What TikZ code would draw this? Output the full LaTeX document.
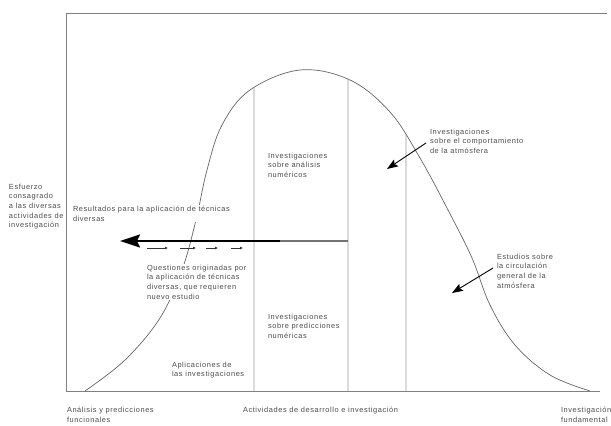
\documentclass[tikz,border=0pt]{standalone}
\usepackage{fontspec}
\setmainfont[LetterSpace=8]{Liberation Sans}
\usetikzlibrary{arrows.meta,intersections}
\begin{document}
\begin{tikzpicture}[x=1pt,y=-1pt,
  lbl/.style={anchor=north west, align=left, inner sep=0.8pt, fill=white, text=black!70,
              font=\fontsize{7.4}{9.6}\selectfont},
  framel/.style={draw=black!50, line width=0.9pt},
  curvel/.style={draw=black!60, line width=0.7pt},
  divl/.style={draw=black!40, line width=0.8pt},
  ptr/.style={draw=black, line width=0.9pt, -{Stealth[length=11pt,width=8pt,inset=2pt]}},
  bigarrow/.style={draw=black, line width=1.8pt, -{Stealth[length=20pt,width=13pt,inset=3pt]}},
  bigtail/.style={draw=black!55, line width=1.1pt},
  smallarrow/.style={draw=black!80, line width=0.6pt, -{Latex[length=3pt,width=3pt]}}]
\useasboundingbox (0,0) rectangle (611,426);
\fill[white] (0,0) rectangle (611,426);

% frame
\draw[framel] (607,13) -- (66,13) -- (66,391) -- (600,391);

% bell curve
\draw[curvel, name path=bell] plot[smooth, tension=0.6] coordinates {
  (85,391) (125,360) (160,318) (182,270) (196,220) (207,170) (222,125) (250,90)
  (300,70) (350,80) (390,112) (420,158) (448,210) (472,258) (490,305) (515,345)
  (550,375) (590,391)};

% vertical dividers
\path[name path=v1] (254,0) -- (254,391);
\path[name path=v2] (348,0) -- (348,391);
\path[name path=v3] (406,0) -- (406,391);
\draw[divl, name intersections={of=bell and v1}] (intersection-1) -- (254,391);
\draw[divl, name intersections={of=bell and v2}] (intersection-1) -- (348,391);
\draw[divl, name intersections={of=bell and v3}] (intersection-1) -- (406,391);

% labels
\node[lbl] (esf) at (8,183) {Esfuerzo\\consagrado\\a las diversas\\actividades de\\investigación};
\node[lbl] (res) at (72,205) {Resultados para la aplicación de técnicas\\diversas};
\node[lbl] (que) at (146,264) {Questiones originadas por\\la aplicación de técnicas\\diversas, que requieren\\nuevo estudio};
\node[lbl] (ian) at (267,152) {Investigaciones\\sobre análisis\\numéricos};
\node[lbl] (ipn) at (267,313) {Investigaciones\\sobre predicciones\\numéricas};
\node[lbl] (apl) at (171,361) {Aplicaciones de\\las investigaciones};
\node[lbl] (ica) at (429,128) {Investigaciones\\sobre el comportamiento\\de la atmósfera};
\node[lbl] (ecg) at (496,253) {Estudios sobre\\la circulación\\general de la\\atmósfera};
\node[lbl] (apf) at (66,406) {Análisis y predicciones\\funcionales};
\node[lbl] (adi) at (242,406) {Actividades de desarrollo e investigación};
\node[lbl] (ifu) at (560,406) {Investigación\\fundamental};

% arrows
\coordinate (a1s) at (426,143);
\coordinate (a1e) at (387,169);
\draw[ptr] (a1s) -- (a1e);
\coordinate (a2s) at (493,268);
\coordinate (a2e) at (452,293);
\draw[ptr] (a2s) -- (a2e);

\coordinate (bs) at (348,241);
\coordinate (bm) at (280,241);
\coordinate (be) at (120,241);
\draw[bigtail] (bs) -- (bm);
\draw[bigarrow] (bm) -- (be);

\coordinate (s1a) at (147,248); \coordinate (s1b) at (168,248);
\coordinate (s2a) at (180,248); \coordinate (s2b) at (196,248);
\coordinate (s3a) at (206,248); \coordinate (s3b) at (218,248);
\coordinate (s4a) at (231,248); \coordinate (s4b) at (243,248);
\draw[smallarrow] (s1a) -- (s1b);
\draw[smallarrow] (s2a) -- (s2b);
\draw[smallarrow] (s3a) -- (s3b);
\draw[smallarrow] (s4a) -- (s4b);
\end{tikzpicture}
\end{document}
